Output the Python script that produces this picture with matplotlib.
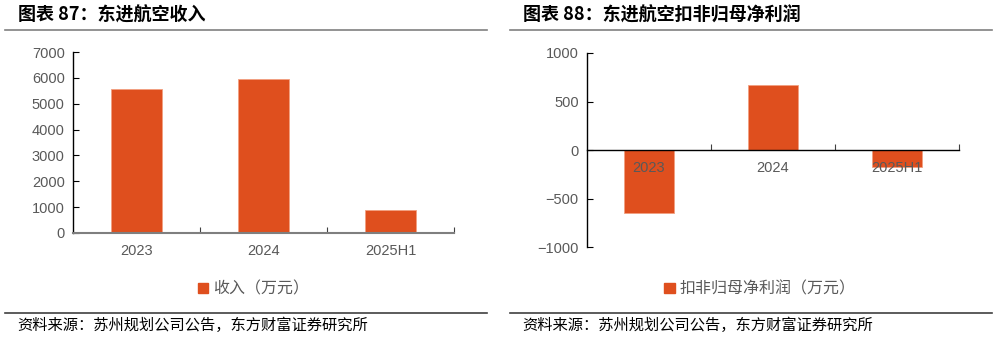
import matplotlib.pyplot as plt
from matplotlib.lines import Line2D
from matplotlib.patches import Patch

plt.rcParams['font.family'] = ['Liberation Sans', 'Noto Sans CJK SC', 'DejaVu Sans']
plt.rcParams['axes.unicode_minus'] = True

# data
categories = ["2023", "2024", "2025H1"]
revenue = [5560, 5950, 900]
net_profit = [-650, 670, -175]

BAR_COLOR = '#DF4F1E'
TICK_COLOR = '#595959'
CJK = ['Noto Sans CJK SC', 'DejaVu Sans']

fig = plt.figure(figsize=(9.97, 3.38), dpi=100)


def style_axes(ax, ymin, ymax, step):
    x = range(len(categories))
    ax.set_xlim(-0.5, len(categories) - 0.5)
    ax.set_ylim(ymin, ymax)
    ax.set_yticks(range(ymin, ymax + 1, step))
    for s in ['top', 'right']:
        ax.spines[s].set_visible(False)
    ax.spines['left'].set_color('black')
    ax.spines['left'].set_linewidth(1.0)
    ax.tick_params(axis='y', direction='in', length=4, width=0.8, color='black',
                   labelsize=10.5, labelcolor=TICK_COLOR, pad=6)
    # category boundary ticks, labels on minor ticks
    ax.set_xticks([i + 0.5 for i in x])
    ax.set_xticklabels([])
    ax.set_xticks(list(x), minor=True)
    ax.set_xticklabels(categories, minor=True)
    ax.tick_params(axis='x', which='major', direction='in', length=4, width=0.8,
                   color='#404040')
    ax.tick_params(axis='x', which='minor', length=0, labelsize=10.5,
                   labelcolor=TICK_COLOR, pad=8)


# left chart: revenue
ax1 = fig.add_axes([0.0732, 0.3107, 0.3822, 0.5353])
ax1.bar(range(len(categories)), revenue, width=0.4, color=BAR_COLOR,
        edgecolor='#F2A080', linewidth=0.6)
style_axes(ax1, 0, 7000, 1000)
ax1.spines['bottom'].set_color('#7f7f7f')
ax1.spines['bottom'].set_linewidth(1.5)
ax1.legend(handles=[Patch(color=BAR_COLOR, label='收入（万元）')],
           loc='center', bbox_to_anchor=(0.254, 0.145), bbox_transform=fig.transFigure,
           frameon=False, handlelength=0.65, handleheight=0.65, handletextpad=0.3,
           prop={'family': CJK, 'size': 11.5}, labelcolor=TICK_COLOR)

# right chart: net profit
ax2 = fig.add_axes([0.5888, 0.2692, 0.3731, 0.574])
ax2.bar(range(len(categories)), net_profit, width=0.4, color=BAR_COLOR,
        edgecolor='#F2A080', linewidth=0.6)
style_axes(ax2, -1000, 1000, 500)
ax2.spines['bottom'].set_position(('data', 0))
ax2.spines['bottom'].set_color('black')
ax2.spines['bottom'].set_linewidth(1.0)
ax2.legend(handles=[Patch(color=BAR_COLOR, label='扣非归母净利润（万元）')],
           loc='center', bbox_to_anchor=(0.762, 0.145), bbox_transform=fig.transFigure,
           frameon=False, handlelength=0.65, handleheight=0.65, handletextpad=0.3,
           prop={'family': CJK, 'size': 11.5}, labelcolor=TICK_COLOR)

# titles, rules and source notes
W, H = 997, 338
for x0, x1, title in [(5, 487, '图表 87：东进航空收入'),
                      (510, 992, '图表 88：东进航空扣非归母净利润')]:
    fig.text((x0 + 13) / W, 1 - 15 / H, title, family=CJK, weight='bold',
             fontsize=13, va='center', ha='left', color='black')
    fig.add_artist(Line2D([x0 / W, x1 / W], [1 - 30 / H] * 2, color='#808080', lw=1.2))
    fig.add_artist(Line2D([x0 / W, x1 / W], [1 - 313 / H] * 2, color='#404040', lw=1.2))
    fig.text((x0 + 12) / W, 1 - 325 / H, '资料来源：苏州规划公司公告，东方财富证券研究所',
             family=CJK, fontsize=11, va='center', ha='left', color='black')

fig.savefig('out.png', dpi=100)
